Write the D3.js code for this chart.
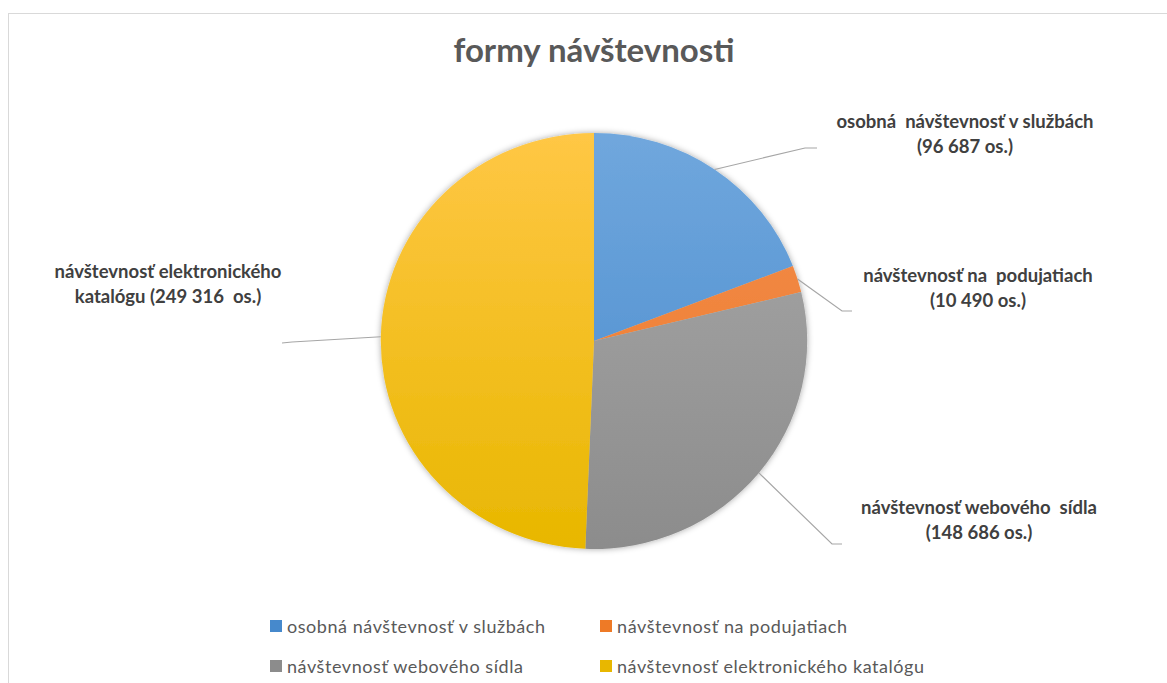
<!DOCTYPE html>
<html>
<head>
<meta charset="utf-8">
<script src="https://cdn.jsdelivr.net/npm/d3@7"></script>
<style>
  body { margin: 0; background: #fff; }
  svg { display: block; font-family: Lato, "Open Sans", sans-serif; }
</style>
</head>
<body>
<div id="chart"></div>
<script>
// forms of attendance - pie chart

let width = 1167;
let height = 683;

let categories = [
  'osobná návštevnosť v službách',
  'návštevnosť na podujatiach',
  'návštevnosť webového sídla',
  'návštevnosť elektronického katalógu'
];
let values = [96687, 10490, 148686, 249316];
let labelLines = [
  ['osobná  návštevnosť v službách', '(96 687 os.)'],
  ['návštevnosť na  podujatiach', '(10 490 os.)'],
  ['návštevnosť webového  sídla', '(148 686 os.)'],
  ['návštevnosť elektronického', 'katalógu (249 316  os.)']
];
let colors = [
  ['#70a7dd', '#4689cc'],
  ['#f28d4f', '#ee7a26'],
  ['#a9a9a9', '#8c8c8c'],
  ['#ffc745', '#e8b700']
];

let cx = 594;
let cy = 341;
let radius = 208;

// label anchor layout: elbow point, end of leader, text centre, first baseline
let labelLayout = [
  { elbow: [805, 148], end: [817, 148], tx: 965, ty: 128 },
  { elbow: [842, 311], end: [852, 311], tx: 978, ty: 282 },
  { elbow: [832, 544], end: [842, 544], tx: 979, ty: 514 },
  { elbow: [292, 342], end: [282, 343], tx: 168, ty: 278 }
];

let svg = d3.select('#chart').append('svg')
  .attr('width', width)
  .attr('height', height);

let defs = svg.append('defs');

colors.forEach((c, i) => {
  let g = defs.append('linearGradient')
    .attr('id', 'grad' + i)
    .attr('gradientUnits', 'userSpaceOnUse')
    .attr('x1', 0).attr('y1', -radius)
    .attr('x2', 0).attr('y2', radius);
  g.append('stop').attr('offset', '0%').attr('stop-color', c[0]);
  g.append('stop').attr('offset', '100%').attr('stop-color', c[1]);
});

let shadow = defs.append('filter')
  .attr('id', 'shadow')
  .attr('x', '-10%').attr('y', '-10%')
  .attr('width', '120%').attr('height', '120%');
shadow.append('feDropShadow')
  .attr('dx', 0).attr('dy', 0)
  .attr('stdDeviation', 3)
  .attr('flood-color', '#000')
  .attr('flood-opacity', 0.35);

// chart frame
svg.append('rect')
  .attr('x', 8.5)
  .attr('y', 13.5)
  .attr('width', 1200)
  .attr('height', 700)
  .attr('fill', 'none')
  .attr('stroke', '#d9d9d9')
  .attr('stroke-width', 1);

// title
svg.append('text')
  .attr('x', cx)
  .attr('y', 62)
  .attr('text-anchor', 'middle')
  .style('font-size', '33px')
  .style('font-weight', 'bold')
  .style('fill', '#595959')
  .text('formy návštevnosti');

let pie = d3.pie().sort(null).value(d => d);
let arcs = pie(values);
let arc = d3.arc().innerRadius(0).outerRadius(radius);

let pieG = svg.append('g')
  .attr('transform', 'translate(' + cx + ',' + cy + ') scale(1.025,1)');

pieG.append('g')
  .attr('filter', 'url(#shadow)')
  .selectAll('path')
  .data(arcs)
  .enter()
  .append('path')
  .attr('d', arc)
  .attr('fill', (d, i) => 'url(#grad' + i + ')');

// leader lines and data labels
arcs.forEach((d, i) => {
  let mid = (d.startAngle + d.endAngle) / 2;
  let sx = cx + Math.sin(mid) * radius * 1.025;
  let sy = cy - Math.cos(mid) * radius;
  let l = labelLayout[i];
  svg.append('polyline')
    .attr('points', [[sx, sy], l.elbow, l.end].map(p => p.join(',')).join(' '))
    .attr('fill', 'none')
    .attr('stroke', '#a6a6a6')
    .attr('stroke-width', 1.2);

  let t = svg.append('text')
    .attr('text-anchor', 'middle')
    .style('font-size', '18.5px')
    .style('font-weight', 'bold')
    .style('fill', '#404040')
    .style('white-space', 'pre');
  labelLines[i].forEach((line, k) => {
    t.append('tspan')
      .attr('x', l.tx)
      .attr('y', l.ty + k * 24.5)
      .text(line);
  });
});

// legend
let legendX = [270, 600];
let legendY = [633, 673];
let legendW = [258, 230, 236, 307];
categories.forEach((c, i) => {
  let col = i % 2;
  let row = Math.floor(i / 2);
  let g = svg.append('g')
    .attr('transform', 'translate(' + legendX[col] + ',' + legendY[row] + ')');
  g.append('rect')
    .attr('x', 0)
    .attr('y', -13)
    .attr('width', 12)
    .attr('height', 12)
    .attr('fill', colors[i][1]);
  g.append('text')
    .attr('x', 17)
    .attr('y', 0)
    .attr('textLength', legendW[i])
    .attr('lengthAdjust', 'spacing')
    .style('font-size', '18px')
    .style('fill', '#595959')
    .text(c);
});
</script>
</body>
</html>
